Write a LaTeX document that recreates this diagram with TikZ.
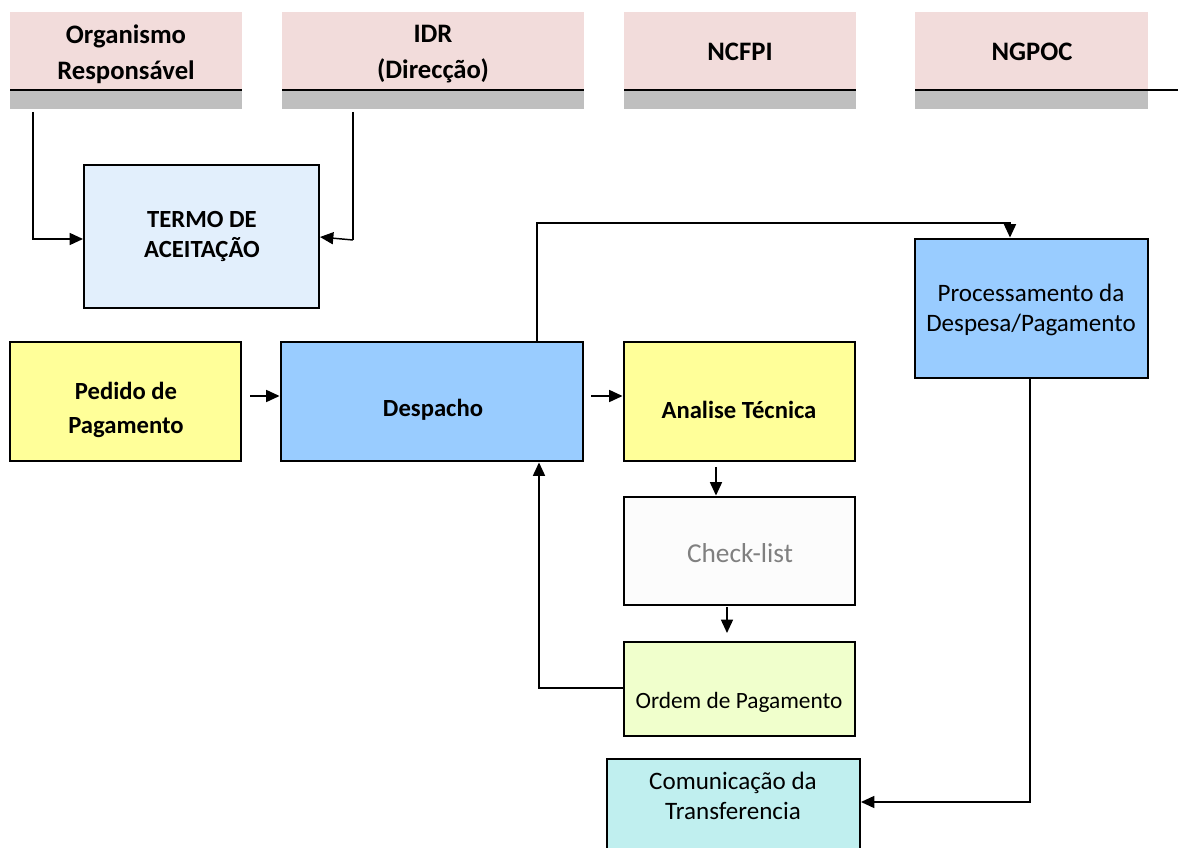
\documentclass[tikz,border=0pt]{standalone}
\usepackage{fontspec}
\setmainfont{Carlito}
\usetikzlibrary{fit,arrows.meta}
\definecolor{hdrpink}{HTML}{F2DCDB}
\definecolor{hdrgrey}{HTML}{BFBFBF}
\definecolor{termo}{HTML}{E2EFFC}
\definecolor{yel}{HTML}{FFFF99}
\definecolor{blu}{HTML}{99CCFF}
\definecolor{chk}{HTML}{FCFCFC}
\definecolor{ord}{HTML}{F0FFCC}
\definecolor{com}{HTML}{C0EFEF}
\tikzset{
  x=0.75pt,y=-0.75pt,
  hdr/.style={fill=hdrpink,draw=none,inner sep=0pt},
  hdrtxt/.style={inner sep=0pt,align=center,font=\bfseries\fontsize{20}{27}\selectfont},
  grey/.style={fill=hdrgrey},
  box/.style={draw=black,line width=2.2pt,inner sep=0pt},
  btxt/.style={inner sep=0pt,align=center,font=\bfseries\fontsize{18.5}{25.5}\selectfont},
  txt/.style={align=center,inner sep=0pt,font=\fontsize{18.8}{23}\selectfont},
  conn/.style={line width=1.1pt,-{Triangle[length=10pt,width=9pt]}},
  plain/.style={line width=1.1pt},
}
\begin{document}
\begin{tikzpicture}
\useasboundingbox (0,0) rectangle (1190,848);
% headers
\node[hdr,fit={(10,12)(242,90)}] (h1) {};
\node[hdr,fit={(282,12)(584,90)}] (h2) {};
\node[hdr,fit={(624,12)(856,90)}] (h3) {};
\node[hdr,fit={(915,12)(1148,90)}] (h4) {};
\node[hdrtxt] at (126,54) {Organismo\\Responsável};
\node[hdrtxt] at (433,54) {IDR\\(Direcção)};
\node[hdrtxt] at (740,52) {NCFPI};
\node[hdrtxt] at (1032,52) {NGPOC};
\fill[grey] (10,91) rectangle (242,109);
\fill[grey] (282,91) rectangle (584,109);
\fill[grey] (624,91) rectangle (856,109);
\fill[grey] (915,91) rectangle (1148,109);
\draw[line width=2.2pt] (10,90) -- (242,90);
\draw[line width=2.2pt] (282,90) -- (584,90);
\draw[line width=2.2pt] (624,90) -- (856,90);
\draw[line width=2.2pt] (915,90) -- (1178,90);
% boxes
\node[box,line width=1.5pt,fill=termo,fit={(84,165)(319,308)}] (termo) {};
\node[btxt,font=\bfseries\fontsize{18.5}{22.5}\selectfont] at (202,236) {TERMO DE\\ACEITAÇÃO};
\node[box,fill=yel,fit={(10,342)(241,461)}] (pedido) {};
\node[btxt] at (126,410) {Pedido de\\Pagamento};
\node[box,fill=blu,fit={(281,342)(583,461)}] (desp) {};
\node[btxt] at (433,410) {Despacho};
\node[box,fill=yel,fit={(624,342)(855,461)}] (anal) {};
\node[btxt] at (739,410) {Analise Técnica};
\node[box,fill=chk,fit={(624,497)(855,605)}] (check) {};
\node[txt,text=black!50,font=\fontsize{20.5}{23}\selectfont] at (740,553) {Check-list};
\node[box,fill=ord,fit={(624,642)(855,736)}] (ordem) {};
\node[txt,font=\fontsize{17.5}{20}\selectfont] at (739,702) {Ordem de Pagamento};
\node[box,fill=blu,fit={(915,239)(1148,378)}] (proc) {};
\node[txt] at (1031,310) {Processamento da\\Despesa/Pagamento};
\node[box,line width=1.5pt,fill=com,fit={(607,759)(860,860)}] (comu) {};
\node[txt,font=\fontsize{18.8}{22.5}\selectfont] at (733,796) {Comunicação da\\Transferencia};
% connector anchors
\coordinate (a1) at (33,112);
\coordinate (a2) at (353,112);
% connectors
\draw[conn] (a1) |- (termo.west |- 0,239);
\draw[plain] (a2) -- (353,240);
\draw[conn] (353,240) -- (termo.east |- 0,237);
\draw[conn] (250,396) -- (desp.west |- 0,396);
\draw[conn] (591,396) -- (anal.west |- 0,396);
\draw[conn] (716,467) -- (check.north -| 716,0);
\draw[conn] (727,607) -- (727,633);
\draw[conn] (ordem.west |- 0,688) -| (desp.south -| 539,0);
\draw[conn] (desp.north -| 537,0) |- (1010,223) -- (proc.north -| 1010,0);
\draw[conn] (proc.south -| 1030,0) |- (comu.east |- 0,802);
\end{tikzpicture}
\end{document}
